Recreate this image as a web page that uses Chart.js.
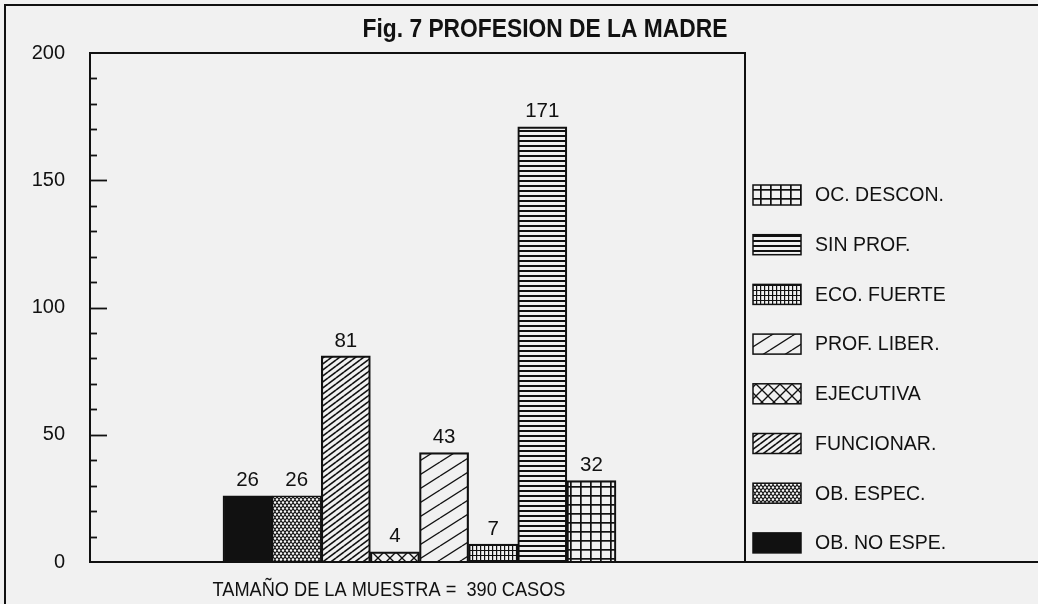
<!DOCTYPE html>
<html>
<head>
<meta charset="utf-8">
<script src="https://cdn.jsdelivr.net/npm/chart.js@4.4.1/dist/chart.umd.min.js"></script>
<style>
  html, body { margin: 0; padding: 0; background: #f1f1f1; }
  canvas { display: block; }
</style>
</head>
<body>
<canvas id="c" width="1038" height="604"></canvas>
<script>
// ---- data ----
const titleText = "Fig. 7 PROFESION DE LA MADRE";
const footText = "TAMAÑO DE LA MUESTRA =  390 CASOS";
const categories = ["OB. NO ESPE.", "OB. ESPEC.", "FUNCIONAR.", "EJECUTIVA", "PROF. LIBER.", "ECO. FUERTE", "SIN PROF.", "OC. DESCON."];
const values = [26, 26, 81, 4, 43, 7, 171, 32];
const yTickLabels = [0, 50, 100, 150, 200];

// ---- styles ----
const patternKinds = ["solid", "dots", "diagDense", "cross", "diagSparse", "vgrid", "hlines", "grid"];
const INK = "#111";
const PAPER = "#f1f1f1";
const FONT = '"Liberation Sans", Arial, Helvetica, sans-serif';

function makePattern(kind) {
  if (kind === "solid") return INK;
  const c = document.createElement("canvas");
  const dims = { dots: [4, 6], diagDense: [8, 6], cross: [12, 12], diagSparse: [22, 14], vgrid: [4, 5], hlines: [4, 5], grid: [10, 9] };
  const [w, h] = dims[kind];
  c.width = w; c.height = h;
  const g = c.getContext("2d");
  g.fillStyle = INK; g.strokeStyle = INK;
  if (kind === "dots") {
    g.fillRect(0, 0, w, h);
    g.fillStyle = "#fafafa";
    const holes = [[1, 1.5], [3, 4.5]];
    for (const [hx, hy] of holes) for (let dx = -w; dx <= w; dx += w) for (let dy = -h; dy <= h; dy += h) {
      g.beginPath(); g.arc(hx + dx, hy + dy, 1.3, 0, Math.PI * 2); g.fill();
    }
  } else if (kind === "diagDense" || kind === "diagSparse") {
    g.lineWidth = kind === "diagDense" ? 1.6 : 1.3;
    for (let n = -1; n <= 2; n++) {
      g.beginPath(); g.moveTo(0, n * h); g.lineTo(w, (n - 1) * h); g.stroke();
    }
  } else if (kind === "cross") {
    g.lineWidth = 1.3;
    for (let dx = -w; dx <= w; dx += w) {
      g.beginPath(); g.moveTo(dx, 0); g.lineTo(dx + w, h); g.stroke();
      g.beginPath(); g.moveTo(dx, h); g.lineTo(dx + w, 0); g.stroke();
    }
  } else if (kind === "vgrid") {
    g.fillRect(0, 0, 1.2, h); g.fillRect(0, 0, w, 1);
  } else if (kind === "hlines") {
    g.fillRect(0, 0, w, 2);
  } else if (kind === "grid") {
    g.fillRect(0, 0, 1.7, h); g.fillRect(0, 0, w, 1.7);
  }
  return g.createPattern(c, "repeat");
}
const patterns = patternKinds.map(makePattern);

function fitText(ctx, text, cx, cy, width, font) {
  ctx.save();
  ctx.font = font;
  const m = ctx.measureText(text).width;
  ctx.translate(cx, cy);
  ctx.scale(width / m, 1);
  ctx.textAlign = "center";
  ctx.textBaseline = "middle";
  ctx.fillText(text, 0, 0);
  ctx.restore();
}

const decor = {
  id: "decor",
  beforeDraw(chart) {
    const ctx = chart.ctx;
    ctx.save();
    ctx.fillStyle = PAPER;
    ctx.fillRect(0, 0, chart.width, chart.height);
    ctx.restore();
  },
  afterDraw(chart) {
    const ctx = chart.ctx;
    const a = chart.chartArea;
    const ys = chart.scales.y;
    ctx.save();
    ctx.strokeStyle = INK; ctx.fillStyle = INK;
    // outer frame
    ctx.lineWidth = 2;
    ctx.beginPath();
    ctx.moveTo(5, chart.height); ctx.lineTo(5, 5); ctx.lineTo(chart.width, 5);
    ctx.stroke();
    // plot box
    ctx.beginPath();
    ctx.moveTo(a.left, a.top); ctx.lineTo(a.right, a.top); ctx.lineTo(a.right, a.bottom);
    ctx.moveTo(a.left - 1, a.bottom); ctx.lineTo(chart.width, a.bottom);
    ctx.stroke();
    // inward ticks
    ctx.lineWidth = 1.8;
    for (let v = ys.min + 10; v < ys.max; v += 10) {
      const y = Math.round(ys.getPixelForValue(v)) + 0.5;
      const len = (v % 50 === 0) ? 17 : 7;
      ctx.beginPath(); ctx.moveTo(a.left, y); ctx.lineTo(a.left + len, y); ctx.stroke();
    }
    // value labels
    const meta = chart.getDatasetMeta(0);
    ctx.font = "20.5px " + FONT;
    ctx.textAlign = "center"; ctx.textBaseline = "middle";
    meta.data.forEach((bar, i) => {
      ctx.fillText(String(values[i]), bar.x, bar.y - 15);
    });
    // legend (reverse order)
    ctx.font = "19.5px " + FONT;
    ctx.textAlign = "left";
    const order = categories.map((_, i) => i).reverse();
    order.forEach((idx, k) => {
      const cy = 195 + k * 49.7;
      ctx.fillStyle = patterns[idx];
      ctx.fillRect(753, cy - 10, 48, 20);
      ctx.lineWidth = 1.5; ctx.strokeStyle = INK;
      ctx.strokeRect(753, cy - 10, 48, 20);
      ctx.fillStyle = INK;
      ctx.fillText(categories[idx], 815, cy + 1);
    });
    // title & footnote
    fitText(ctx, titleText, 545, 30, 365, "bold 25px " + FONT);
    fitText(ctx, footText, 389, 590, 353, "21px " + FONT);
    ctx.restore();
  }
};

new Chart(document.getElementById("c"), {
  type: "bar",
  data: {
    datasets: [{
      data: values.map((v, i) => ({ x: i, y: v })),
      backgroundColor: patterns,
      borderColor: INK,
      borderWidth: 1.5,
      borderSkipped: "bottom",
      barPercentage: 1,
      categoryPercentage: 1
    }]
  },
  options: {
    responsive: false,
    animation: false,
    devicePixelRatio: 1,
    layout: { padding: { left: 0, right: 293, top: 53, bottom: 42 } },
    plugins: { legend: { display: false }, tooltip: { enabled: false }, title: { display: false } },
    scales: {
      x: {
        type: "linear", min: -3.207, max: 10.126, display: false, offset: false,
        grid: { offset: false },
        afterBuildTicks(s) { s.ticks = categories.map((_, i) => ({ value: i })); }
      },
      y: {
        min: 0, max: 200,
        afterFit(s) { s.width = 90; },
        ticks: {
          stepSize: 50,
          padding: 25,
          color: INK,
          font: { size: 20, family: FONT },
          callback: (v) => yTickLabels.includes(v) ? String(v) : ""
        },
        grid: { drawOnChartArea: false, drawTicks: false },
        border: { display: true, width: 2, color: INK }
      }
    }
  },
  plugins: [decor]
});
</script>
</body>
</html>
